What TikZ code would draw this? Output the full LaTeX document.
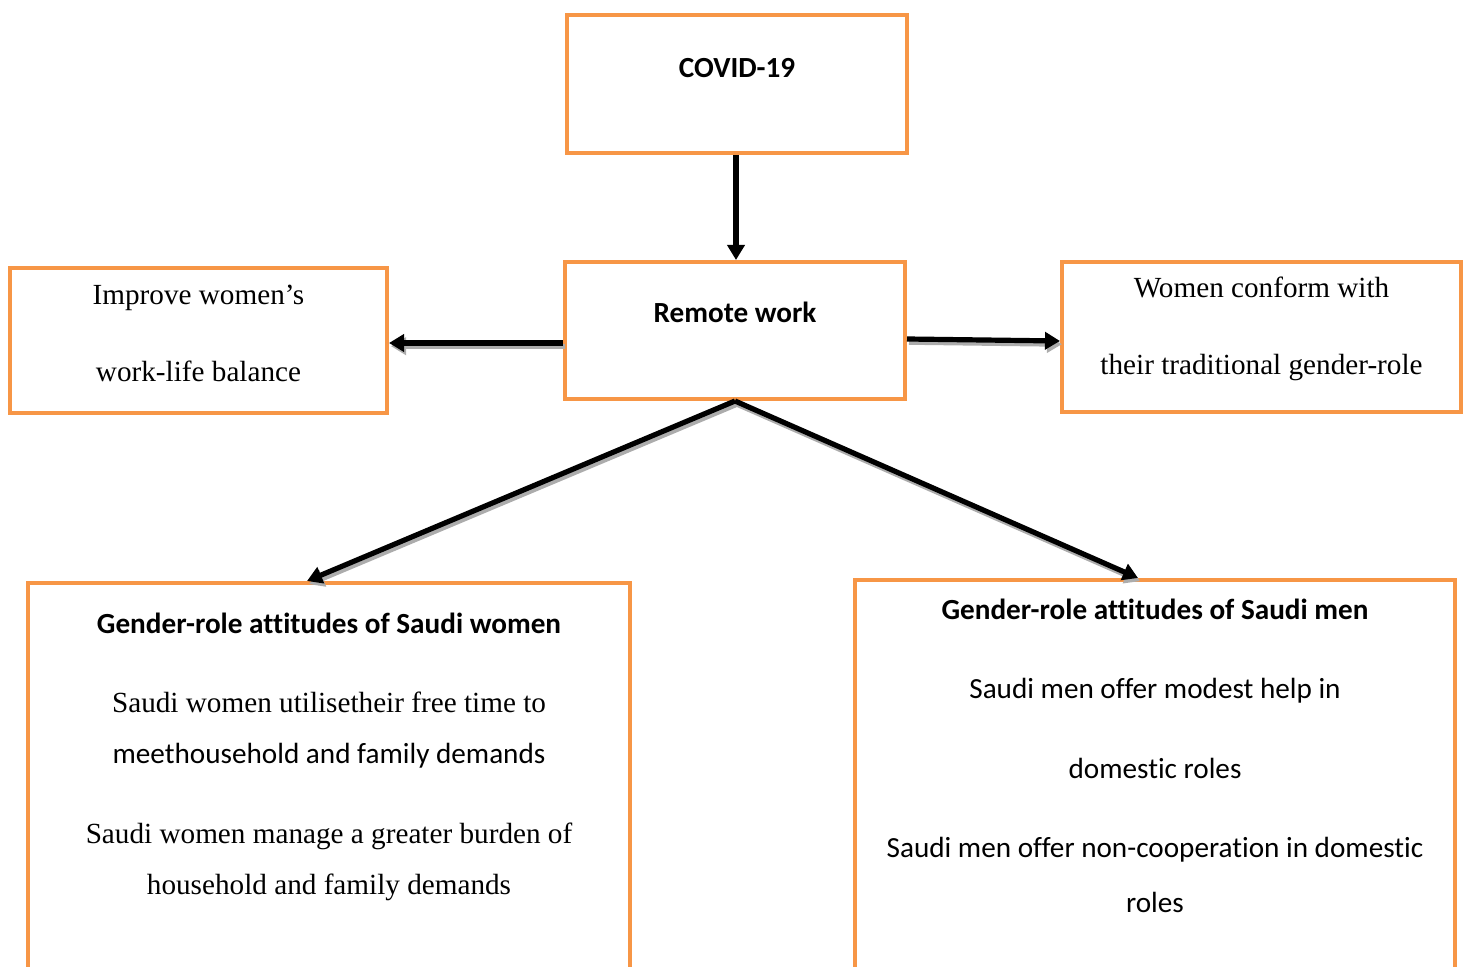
\documentclass[tikz,border=0pt]{standalone}
\usepackage{fontspec}
\setmainfont{Liberation Serif}
\setsansfont{Carlito}[Ligatures=NoCommon]
\usepackage{tikz}
\usetikzlibrary{arrows.meta,positioning}
\definecolor{boxorange}{HTML}{F79646}

\begin{document}
\begin{tikzpicture}[>={Triangle[length=7.5pt,width=8.5pt]}, node distance=2cm]
  \tikzstyle{framebox}=[draw=boxorange,line width=2pt,fill=white,inner sep=0pt]
  \tikzstyle{serif}=[inner sep=0pt,anchor=base,font=\rmfamily\fontsize{14.6}{17}\selectfont]
  \tikzstyle{sans}=[inner sep=0pt,anchor=base,font=\sffamily\fontsize{14.6}{17}\selectfont]
  \tikzstyle{head}=[inner sep=0pt,anchor=base,font=\sffamily\bfseries\fontsize{14.6}{17}\selectfont]
  \tikzstyle{link}=[->,draw=black,line width=2.6pt]
  \tikzstyle{linkshadow}=[->,draw=gray!65,fill=gray!65,line width=2.6pt]

  \useasboundingbox (0,0) rectangle (733pt,-483.5pt);
  \clip (0,0) rectangle (733pt,-483.5pt);

  % boxes
  \node[framebox,minimum width=170pt,minimum height=68.5pt] (remote) at (367.5pt,-165.25pt) {};
  \node[framebox,minimum width=170pt,minimum height=69pt] (covid) [above=52.5pt of remote,xshift=1pt] {};
  \node[framebox,minimum width=188.5pt,minimum height=72.5pt] (improve) [left=87pt of remote,yshift=-5pt] {};
  \node[framebox,minimum width=199.5pt,minimum height=75pt] (conform) [right=76.5pt of remote,yshift=-3.25pt] {};
  \node[framebox,minimum width=301pt,minimum height=203.5pt] (women) [below=90pt of remote,xshift=-203pt] {};
  \node[framebox,minimum width=300pt,minimum height=205pt] (men) [below=88.5pt of remote,xshift=210pt] {};

  % texts
  \node[head] (covidtxt) at ([yshift=-32.5pt]covid.north) {COVID-19};
  \node[head] (remotetxt) at ([yshift=-31.5pt]remote.north) {Remote work};
  \node[serif] (improveA) at ([yshift=-19.5pt]improve.north) {Improve women’s};
  \node[serif] (improveB) at ([yshift=-58pt]improve.north) {work-life balance};
  \node[serif] (conformA) at ([yshift=-19pt]conform.north) {Women conform with};
  \node[serif] (conformB) at ([yshift=-57.5pt]conform.north) {their traditional gender-role};
  \node[head] (womentitle) at ([yshift=-26pt]women.north) {Gender-role attitudes of Saudi women};
  \node[serif] (womenA) at ([yshift=-65.5pt]women.north) {Saudi women utilisetheir free time to};
  \node[sans] (womenB) at ([yshift=-91pt]women.north) {meethousehold and family demands};
  \node[serif] (womenC) at ([yshift=-131pt]women.north) {Saudi women manage a greater burden of};
  \node[serif] (womenD) at ([yshift=-156.5pt]women.north) {household and family demands};
  \node[head] (mentitle) at ([yshift=-20.5pt]men.north) {Gender-role attitudes of Saudi men};
  \node[sans] (menA) at ([yshift=-60pt]men.north) {Saudi men offer modest help in};
  \node[sans] (menB) at ([yshift=-100pt]men.north) {domestic roles};
  \node[sans] (menC) at ([yshift=-139.5pt]men.north) {Saudi men offer non-cooperation in domestic};
  \node[sans] (menD) at ([yshift=-167pt]men.north) {roles};

  % arrows, with their grey shadows first
  \begin{scope}[transform canvas={shift={(1pt,-1.6pt)}}]
    \draw[linkshadow] ([yshift=-6.25pt]remote.west) -- ([yshift=-1.25pt]improve.east);
    \draw[linkshadow] ([yshift=-4.25pt]remote.east) -- ([yshift=-2pt]conform.west);
    \draw[linkshadow] (remote.south) -- ([xshift=-11pt]women.north);
    \draw[linkshadow] (remote.south) -- ([xshift=-8.5pt]men.north);
  \end{scope}
  \draw[link] ([xshift=-0.5pt]covid.south) -- ([xshift=0.5pt]remote.north);
  \draw[link] ([yshift=-6.25pt]remote.west) -- ([yshift=-1.25pt]improve.east);
  \draw[link] ([yshift=-4.25pt]remote.east) -- ([yshift=-2pt]conform.west);
  \draw[link] (remote.south) -- ([xshift=-11pt]women.north);
  \draw[link] (remote.south) -- ([xshift=-8.5pt]men.north);
\end{tikzpicture}
\end{document}
